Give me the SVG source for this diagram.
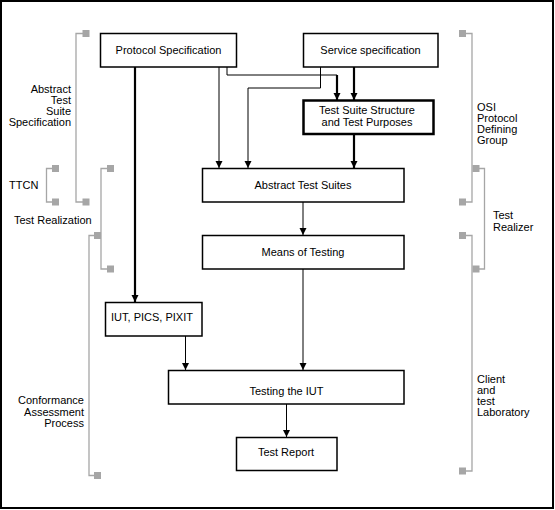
<svg xmlns="http://www.w3.org/2000/svg" width="555" height="510" viewBox="0 0 555 510">
<style>
text{font-family:"Liberation Sans",Arial,sans-serif;font-size:11px;fill:#000}
.box{fill:#fff;stroke:#000;stroke-width:1.5}
.bold{fill:#fff;stroke:#000;stroke-width:2.5}
.c{fill:none;stroke:#000;stroke-width:1}
.t{fill:none;stroke:#000;stroke-width:2.2}
.br{fill:none;stroke:#a6a6a6;stroke-width:1.3}
.sq{fill:#a6a6a6}
.m{text-anchor:middle}
.e{text-anchor:end}
</style>
<defs>
<marker id="ah" markerUnits="userSpaceOnUse" markerWidth="9" markerHeight="9" refX="7" refY="3.5" orient="auto">
<path d="M0,0 L7,3.5 L0,7 z" fill="#000"/>
</marker>
</defs>
<rect x="1" y="1" width="552" height="507" fill="#fff" stroke="#000" stroke-width="2"/>

<g id="connectors">
<line class="t" x1="135" y1="67" x2="135" y2="302" marker-end="url(#ah)"/>
<line class="c" x1="219" y1="67" x2="219" y2="168" marker-end="url(#ah)"/>
<polyline class="c" points="227,67 227,75 337,75"/>
<line class="t" x1="337" y1="75" x2="337" y2="100" marker-end="url(#ah)"/>
<polyline class="c" points="320.5,67 320.5,88 248,88 248,168" marker-end="url(#ah)"/>
<line class="t" x1="354" y1="67" x2="354" y2="100" marker-end="url(#ah)"/>
<line class="t" x1="354" y1="134" x2="354" y2="168" marker-end="url(#ah)"/>
<line class="c" x1="303" y1="202" x2="303" y2="235" marker-end="url(#ah)"/>
<line class="c" x1="303" y1="269" x2="303" y2="370" marker-end="url(#ah)"/>
<line class="c" x1="185.5" y1="336" x2="185.5" y2="370" marker-end="url(#ah)"/>
<line class="c" x1="286.5" y1="404" x2="286.5" y2="437" marker-end="url(#ah)"/>
</g>

<g id="protocol-specification">
<rect class="box" x="100.5" y="33.5" width="136" height="33.5"/>
<text class="m" x="168.5" y="54">Protocol Specification</text>
</g>
<g id="service-specification">
<rect class="box" x="303.5" y="33.5" width="134.5" height="33.5"/>
<text class="m" x="370.5" y="54">Service specification</text>
</g>
<g id="test-suite-structure">
<rect class="bold" x="303.5" y="100.5" width="130" height="33.5"/>
<text class="m" x="367" y="114">Test Suite Structure</text>
<text class="m" x="367" y="125.5">and Test Purposes</text>
</g>
<g id="abstract-test-suites">
<rect class="box" x="202.5" y="168.5" width="201.5" height="33.5"/>
<text class="m" x="303" y="189">Abstract Test Suites</text>
</g>
<g id="means-of-testing">
<rect class="box" x="202.5" y="235.5" width="201.5" height="33.5"/>
<text class="m" x="303" y="256">Means of Testing</text>
</g>
<g id="iut-pics-pixit">
<rect class="box" x="105.5" y="302.5" width="96.5" height="33.5"/>
<text class="m" x="152" y="320.5">IUT, PICS, PIXIT</text>
</g>
<g id="testing-the-iut">
<rect class="box" x="168.5" y="370.5" width="235.5" height="33.5"/>
<text class="m" x="286.5" y="395">Testing the IUT</text>
</g>
<g id="test-report">
<rect class="box" x="236.5" y="437.5" width="100.5" height="33"/>
<text class="m" x="286" y="455.5">Test Report</text>
</g>

<g id="bracket-abstract-test-suite-specification">
<polyline class="br" points="84,33.5 76,33.5 76,202 84,202"/>
<rect class="sq" x="82.5" y="30" width="7" height="7"/>
<rect class="sq" x="82.5" y="198.5" width="7" height="7"/>
<text class="e" x="71" y="93">Abstract</text>
<text class="e" x="71" y="104">Test</text>
<text class="e" x="71" y="115">Suite</text>
<text class="e" x="71" y="126">Specification</text>
</g>
<g id="bracket-ttcn">
<polyline class="br" points="53,168.5 46.5,168.5 46.5,202 53,202"/>
<rect class="sq" x="52" y="165" width="7" height="7"/>
<rect class="sq" x="52" y="198.5" width="7" height="7"/>
<text x="9" y="189">TTCN</text>
</g>
<g id="bracket-test-realization">
<polyline class="br" points="108,168.5 101,168.5 101,269 108,269"/>
<rect class="sq" x="107" y="165" width="7" height="7"/>
<rect class="sq" x="107" y="265.5" width="7" height="7"/>
<text x="14" y="224">Test Realization</text>
</g>
<g id="bracket-conformance-assessment-process">
<polyline class="br" points="95,235.5 89,235.5 89,475.5 95,475.5"/>
<rect class="sq" x="94" y="232" width="7" height="7"/>
<rect class="sq" x="94" y="472" width="7" height="7"/>
<text class="e" x="84" y="404">Conformance</text>
<text class="e" x="84" y="415.5">Assessment</text>
<text class="e" x="84" y="427">Process</text>
</g>
<g id="bracket-osi-protocol-defining-group">
<polyline class="br" points="465,33.5 472,33.5 472,202 465,202"/>
<rect class="sq" x="459" y="30" width="7" height="7"/>
<rect class="sq" x="459" y="198.5" width="7" height="7"/>
<text x="477" y="111">OSI</text>
<text x="477" y="122">Protocol</text>
<text x="477" y="133">Defining</text>
<text x="477" y="144">Group</text>
</g>
<g id="bracket-test-realizer">
<polyline class="br" points="478,168.5 484.5,168.5 484.5,269 478,269"/>
<rect class="sq" x="472.5" y="165" width="7" height="7"/>
<rect class="sq" x="472.5" y="265.5" width="7" height="7"/>
<text x="493" y="219">Test</text>
<text x="493" y="231">Realizer</text>
</g>
<g id="bracket-client-and-test-laboratory">
<polyline class="br" points="465,235.5 472,235.5 472,471 465,471"/>
<rect class="sq" x="459" y="232" width="7" height="7"/>
<rect class="sq" x="459" y="467.5" width="7" height="7"/>
<text x="477" y="383">Client</text>
<text x="477" y="394">and</text>
<text x="477" y="405">test</text>
<text x="477" y="416">Laboratory</text>
</g>
</svg>
